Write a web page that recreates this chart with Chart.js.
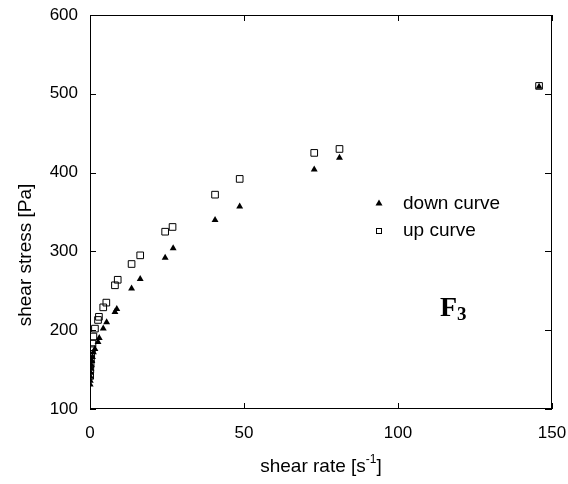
<!DOCTYPE html>
<html>
<head>
<meta charset="utf-8">
<script src="https://cdn.jsdelivr.net/npm/chart.js@4/dist/chart.umd.min.js"></script>
<style>
  html, body { margin: 0; padding: 0; background: #fff; }
  #wrap { width: 568px; height: 484px; }
</style>
</head>
<body>
<div id="wrap"><canvas id="chart"></canvas></div>
<script>
// valores
const rateUp = [0.05, 0.1, 0.2, 0.3, 0.4, 0.6, 0.8, 1.1, 1.6, 2.6, 2.9, 4.3, 5.3, 8.1, 9.0, 13.5, 16.3, 24.4, 26.8, 40.6, 48.6, 72.8, 81.0, 145.8];
const stressUp = [142, 150, 157, 163, 170, 176, 183, 192, 202, 213, 217, 229, 235, 257, 264, 284, 295, 325, 331, 372, 392, 425, 430, 510];
const rateDown = [0.05, 0.1, 0.15, 0.2, 0.3, 0.4, 0.6, 0.8, 1.1, 1.6, 2.6, 3.0, 4.3, 5.4, 8.1, 8.7, 13.5, 16.3, 24.4, 27.0, 40.6, 48.6, 72.8, 81.0, 145.8];
const stressDown = [131, 136, 141, 146, 151, 156, 161, 166, 172, 176, 185, 190, 202, 210, 223, 227, 253, 265, 292, 304, 340, 357, 404, 419, 509];
const xTicks = [0, 50, 100, 150];
const yTicks = [100, 200, 300, 400, 500, 600];

const FONT = "Arial, 'Liberation Sans', sans-serif";

const toPoints = (xs, ys) => xs.map((x, i) => ({ x, y: ys[i] }));

// marco, marcas interiores, leyenda y textos
const framePlugin = {
  id: "frame",
  afterDraw(chart) {
    const { ctx, chartArea: a, scales } = chart;
    ctx.save();
    ctx.strokeStyle = "#000";
    ctx.lineWidth = 1;
    ctx.strokeRect(a.left + 0.5, a.top + 0.5, a.right - a.left - 1, a.bottom - a.top - 1);

    ctx.beginPath();
    yTicks.forEach(v => {
      const y = Math.round(scales.y.getPixelForValue(v)) + 0.5;
      ctx.moveTo(a.left, y); ctx.lineTo(a.left + 6, y);
      ctx.moveTo(a.right, y); ctx.lineTo(a.right - 7, y);
    });
    xTicks.forEach(v => {
      const x = Math.round(scales.x.getPixelForValue(v)) + 0.5;
      ctx.moveTo(x, a.bottom); ctx.lineTo(x, a.bottom - 6);
      ctx.moveTo(x, a.top); ctx.lineTo(x, a.top + 6);
    });
    ctx.stroke();

    // leyenda
    ctx.fillStyle = "#000";
    ctx.beginPath();
    ctx.moveTo(379, 199.5); ctx.lineTo(382.5, 205.5); ctx.lineTo(375.5, 205.5);
    ctx.closePath();
    ctx.fill();
    ctx.strokeRect(376.5, 228.5, 5, 5);
    ctx.font = "19px " + FONT;
    ctx.textBaseline = "middle";
    ctx.textAlign = "left";
    ctx.fillText("down curve", 403, 204);
    ctx.fillText("up curve", 403, 231);

    // F3
    ctx.textBaseline = "alphabetic";
    ctx.font = "bold 28px 'Liberation Serif', 'Times New Roman', serif";
    ctx.fillText("F", 440, 316);
    const fw = ctx.measureText("F").width;
    ctx.font = "bold 19px 'Liberation Serif', 'Times New Roman', serif";
    ctx.fillText("3", 440 + fw, 320);

    // título eje x con superíndice
    const t1 = "shear rate [s", t3 = "]";
    ctx.font = "19px " + FONT;
    const w1 = ctx.measureText(t1).width;
    const w3 = ctx.measureText(t3).width;
    ctx.font = "12px " + FONT;
    const w2 = ctx.measureText("-1").width;
    const cx = (a.left + a.right) / 2;
    const x0 = cx - (w1 + w2 + w3) / 2;
    ctx.font = "19px " + FONT;
    ctx.fillText(t1, x0, 472);
    ctx.font = "12px " + FONT;
    ctx.fillText("-1", x0 + w1, 463);
    ctx.font = "19px " + FONT;
    ctx.fillText(t3, x0 + w1 + w2, 472);

    // título eje y
    ctx.translate(26, 255);
    ctx.rotate(-Math.PI / 2);
    ctx.textAlign = "center";
    ctx.textBaseline = "middle";
    ctx.fillText("shear stress [Pa]", 0, 0);
    ctx.restore();
  }
};

new Chart(document.getElementById("chart"), {
  type: "scatter",
  data: {
    datasets: [
      {
        label: "down curve",
        data: toPoints(rateDown, stressDown),
        pointStyle: "triangle",
        pointRadius: 4,
        backgroundColor: "#000",
        borderColor: "#000",
        borderWidth: 0,
      },
      {
        label: "up curve",
        data: toPoints(rateUp, stressUp),
        pointStyle: "rect",
        pointRadius: 4.7,
        backgroundColor: "rgba(255,255,255,0)",
        borderColor: "#000",
        borderWidth: 1,
      },
    ],
  },
  options: {
    responsive: true,
    maintainAspectRatio: false,
    animation: false,
    layout: { padding: { left: 0, right: 16, top: 15, bottom: 0 } },
    scales: {
      x: {
        type: "linear",
        min: 0,
        max: 150,
        afterBuildTicks: s => { s.ticks = xTicks.map(v => ({ value: v })); },
        afterFit: s => { s.height = 75; s.paddingRight = 0; s.paddingLeft = 0; },
        grid: { display: false, drawTicks: false },
        border: { display: false },
        ticks: { color: "#000", padding: 14, font: { size: 17, family: FONT }, maxRotation: 0 },
      },
      y: {
        type: "linear",
        min: 100,
        max: 600,
        afterBuildTicks: s => { s.ticks = yTicks.map(v => ({ value: v })); },
        afterFit: s => { s.width = 90; s.paddingTop = 0; s.paddingBottom = 0; },
        grid: { display: false, drawTicks: false },
        border: { display: false },
        ticks: { color: "#000", padding: 12, font: { size: 17, family: FONT } },
      },
    },
    plugins: {
      legend: { display: false },
      tooltip: { enabled: false },
    },
  },
  plugins: [framePlugin],
});
</script>
</body>
</html>
